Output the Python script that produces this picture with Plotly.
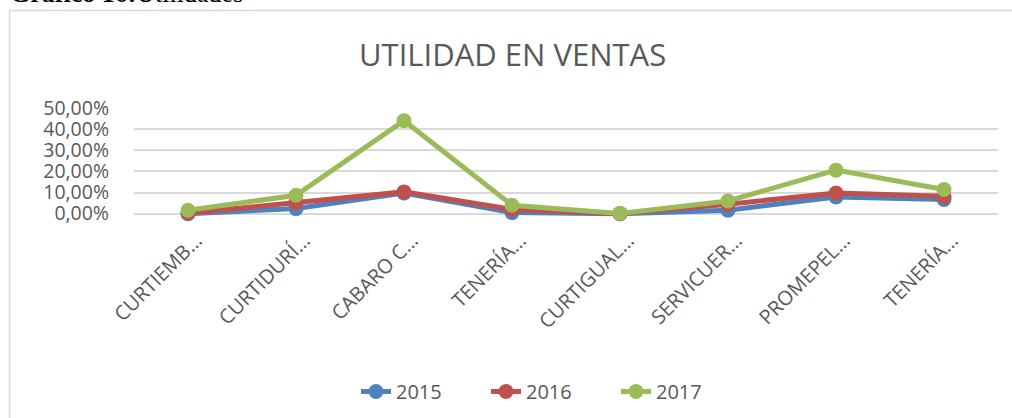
import plotly.graph_objects as go

categories = ["CURTIEMB…", "CURTIDURÍ…", "CABARO C…", "TENERÍA…",
              "CURTIGUAL…", "SERVICUER…", "PROMEPEL…", "TENERÍA…"]
series_names = ["2015", "2016", "2017"]
v2015 = [0.000, 0.024, 0.098, 0.005, 0.000, 0.016, 0.079, 0.067]
v2016 = [0.002, 0.052, 0.103, 0.020, 0.000, 0.045, 0.098, 0.082]
v2017 = [0.016, 0.087, 0.440, 0.040, 0.001, 0.060, 0.206, 0.114]
y_ticks = [0, 0.1, 0.2, 0.3, 0.4, 0.5]

colors = ["#4F81BD", "#C0504D", "#9BBB59"]
W, H = 1012, 418
L, R = 134, 998
T = 108.3
Y0 = 213.3
ppu = (Y0 - T) / 0.5
ymin = -0.03
B = Y0 - ymin * ppu  # bottom pixel of plot
label_shift = 0.075   # category-label offset (fraction of a category)

def px(xp):
    return (xp - L) / (R - L)

def py(yp):
    return (B - yp) / (B - T)

x_idx = list(range(len(categories)))
fig = go.Figure()
for name, vals, c in zip(series_names, [v2015, v2016, v2017], colors):
    fig.add_trace(go.Scatter(
        x=x_idx, y=vals, name=name, mode="lines+markers",
        line=dict(color=c, width=5),
        marker=dict(color=c, size=15),
        cliponaxis=False,
    ))
# invisible helper trace for the category label axis
fig.add_trace(go.Scatter(x=x_idx, y=[None] * len(x_idx), xaxis="x2",
                         showlegend=False, hoverinfo="skip"))

font_c = "#595959"
xr = [-0.5, len(categories) - 0.5]
fig.update_layout(
    width=W, height=H,
    margin=dict(l=L, r=W - R, t=T, b=H - B, autoexpand=False),
    paper_bgcolor="white", plot_bgcolor="white",
    separators=",.",
    font=dict(family="Open Sans", color=font_c, size=20),
    showlegend=True,
    legend=dict(orientation="h", x=px(356), y=py(390), xanchor="left",
                yanchor="middle", font=dict(size=20, color=font_c),
                entrywidth=85, entrywidthmode="pixels",
                bgcolor="rgba(0,0,0,0)"),
    xaxis=dict(range=xr, tickmode="array", tickvals=x_idx,
               showticklabels=False,
               showgrid=False, zeroline=False, showline=False, ticks=""),
    xaxis2=dict(range=[xr[0] - label_shift, xr[1] - label_shift],
                overlaying="x", side="bottom",
                tickmode="array", tickvals=x_idx, ticktext=categories,
                tickangle=-45,
                showgrid=False, zeroline=False, showline=False, ticks="",
                ticklabelstandoff=4,
                tickfont=dict(size=20, color=font_c)),
    yaxis=dict(range=[ymin, 0.5], tickmode="array", tickvals=y_ticks,
               tickformat=".2%", showgrid=True, gridcolor="#d9d9d9",
               gridwidth=1.5, zeroline=False, showline=False, ticks="",
               ticklabelstandoff=24,
               tickfont=dict(size=19.5, color=font_c)),
    annotations=[
        dict(text="UTILIDAD EN VENTAS", xref="paper", yref="paper",
             x=px(512), y=py(55), xanchor="center", yanchor="middle",
             showarrow=False, font=dict(size=31, color=font_c, family="Open Sans")),
        dict(text="<b>Gráfico 16:</b>Utilidades", xref="paper", yref="paper",
             x=px(8), y=py(10.5), xanchor="left", yanchor="bottom",
             showarrow=False, font=dict(size=26, color="black", family="Liberation Serif")),
    ],
    shapes=[
        dict(type="rect", xref="paper", yref="paper",
             x0=px(9.5), x1=px(1030), y0=py(11.5), y1=py(440),
             line=dict(color="#d9d9d9", width=1.5), layer="below"),
    ],
)
fig.write_html("out.html", config={"displayModeBar": False},
               post_script="document.body.style.margin='0';")
